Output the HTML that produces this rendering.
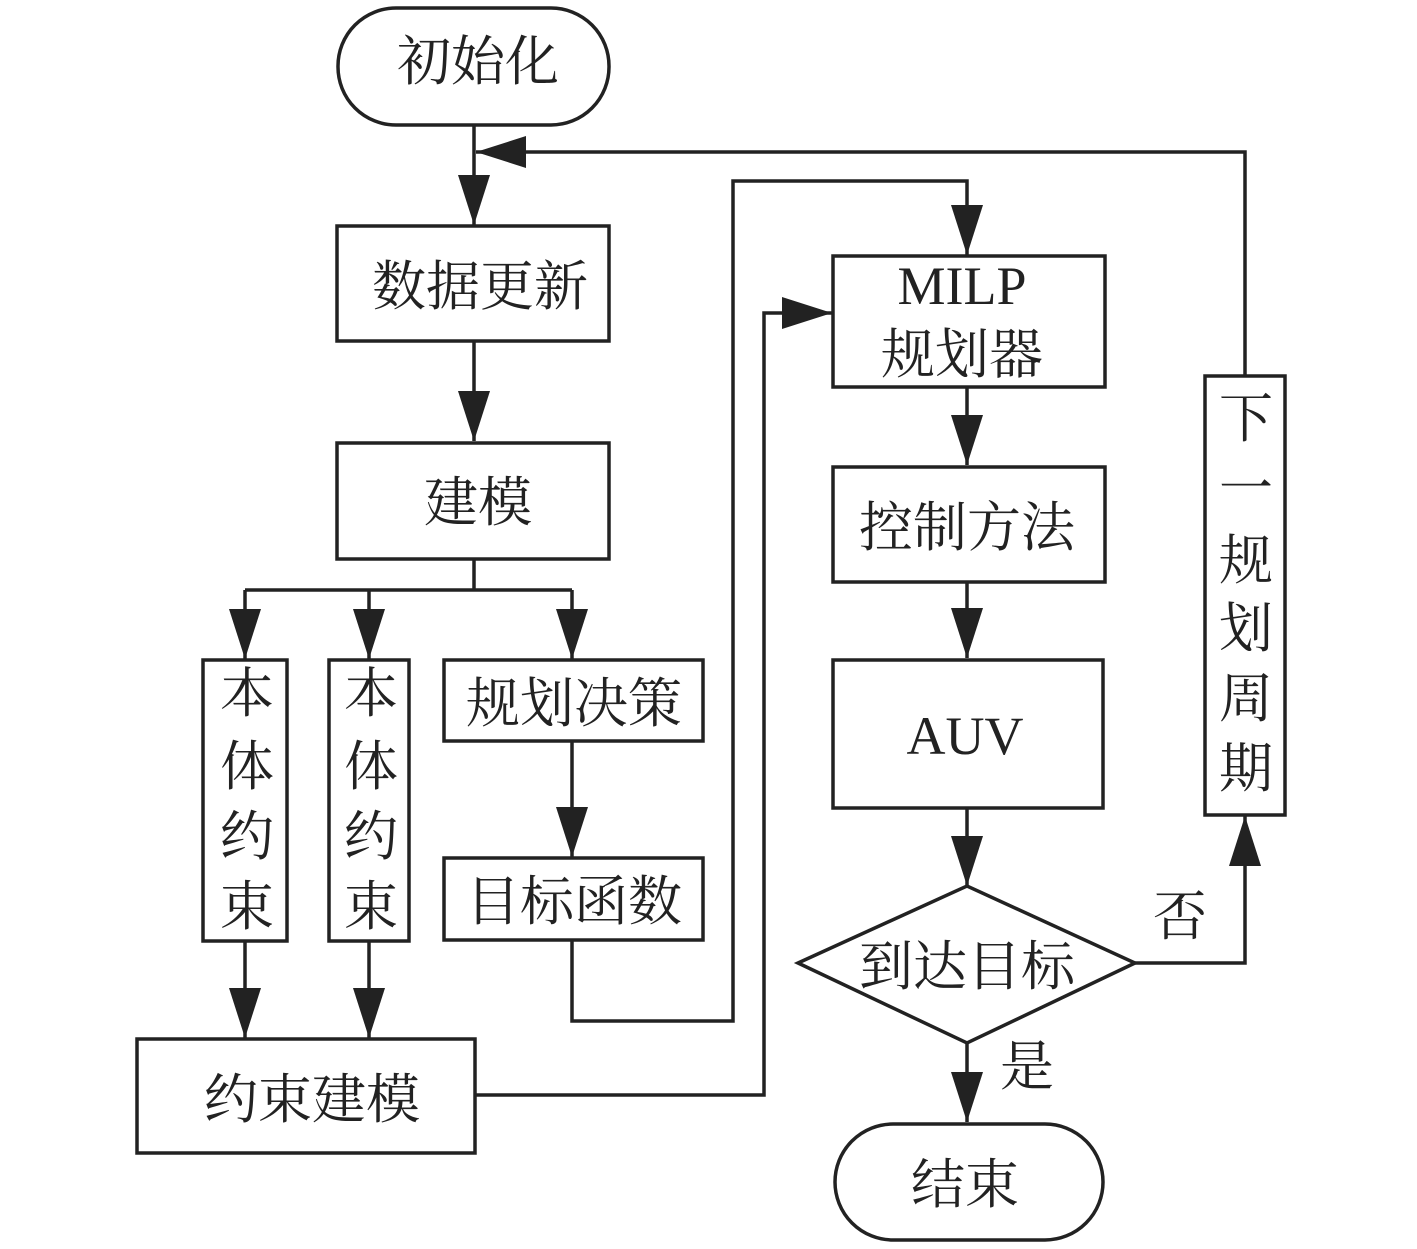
<!DOCTYPE html><html><head><meta charset="utf-8"><style>body{margin:0;background:#fff}svg{display:block}text{font-family:"Liberation Serif","Noto Serif CJK SC",serif;fill:#222;font-size:54px}</style></head><body>
<svg width="1417" height="1249" viewBox="0 0 1417 1249" xmlns="http://www.w3.org/2000/svg">
<defs><marker id="a" viewBox="0 0 50 32" refX="50" refY="16" markerWidth="50" markerHeight="32" markerUnits="userSpaceOnUse" orient="auto"><path d="M0,0L50,16L0,32Z" fill="#222"/></marker></defs>
<g stroke="#222" stroke-width="3.5" fill="none">
<rect x="338" y="8" width="271" height="117" rx="58"/>
<rect x="337" y="226" width="272" height="115"/>
<rect x="337" y="443" width="272" height="116"/>
<rect x="203" y="660" width="84" height="281"/>
<rect x="329" y="660" width="80" height="281"/>
<rect x="444" y="660" width="259" height="81"/>
<rect x="444" y="858" width="259" height="82"/>
<rect x="137" y="1039" width="338" height="114"/>
<rect x="833" y="256" width="272" height="131"/>
<rect x="833" y="467" width="272" height="115"/>
<rect x="833" y="660" width="270" height="148"/>
<path d="M798,963L967,886L1135,963L967,1043Z"/>
<rect x="835" y="1124" width="268" height="116" rx="58"/>
<rect x="1205" y="376" width="80" height="439"/>
<path d="M474,125V225" marker-end="url(#a)"/>
<path d="M1245,376V152H476" marker-end="url(#a)"/>
<path d="M474,341V441" marker-end="url(#a)"/>
<path d="M474,559V590M245,590H572"/>
<path d="M245,590V659" marker-end="url(#a)"/>
<path d="M369,590V659" marker-end="url(#a)"/>
<path d="M572,590V659" marker-end="url(#a)"/>
<path d="M572,741V857" marker-end="url(#a)"/>
<path d="M572,940V1021H733V181H967V255" marker-end="url(#a)"/>
<path d="M245,941V1038" marker-end="url(#a)"/>
<path d="M369,941V1038" marker-end="url(#a)"/>
<path d="M475,1095H764V313H832" marker-end="url(#a)"/>
<path d="M967,387V465" marker-end="url(#a)"/>
<path d="M967,582V658" marker-end="url(#a)"/>
<path d="M967,808V886" marker-end="url(#a)"/>
<path d="M967,1043V1122" marker-end="url(#a)"/>
<path d="M1135,963H1245V816" marker-end="url(#a)"/>
</g>
<g text-anchor="middle">
<text x="478" y="80">初始化</text>
<text x="480" y="305">数据更新</text>
<text x="478" y="521">建模</text>
<text x="574" y="722">规划决策</text>
<text x="574" y="920">目标函数</text>
<text x="312" y="1118">约束建模</text>
<text x="962" y="304">MILP</text>
<text x="962" y="373">规划器</text>
<text x="967" y="546">控制方法</text>
<text x="965" y="754">AUV</text>
<text x="967" y="985">到达目标</text>
<text x="965" y="1203">结束</text>
<text x="1180" y="935">否</text>
<text x="1027" y="1085">是</text>
<text x="247" y="712">本</text><text x="247" y="785">体</text><text x="247" y="855">约</text><text x="247" y="925">束</text>
<text x="371" y="712">本</text><text x="371" y="785">体</text><text x="371" y="855">约</text><text x="371" y="925">束</text>
<text x="1246" y="437">下</text><text x="1246" y="507">一</text><text x="1246" y="579">规</text><text x="1246" y="647">划</text><text x="1246" y="717">周</text><text x="1246" y="787">期</text>
</g>
</svg></body></html>
